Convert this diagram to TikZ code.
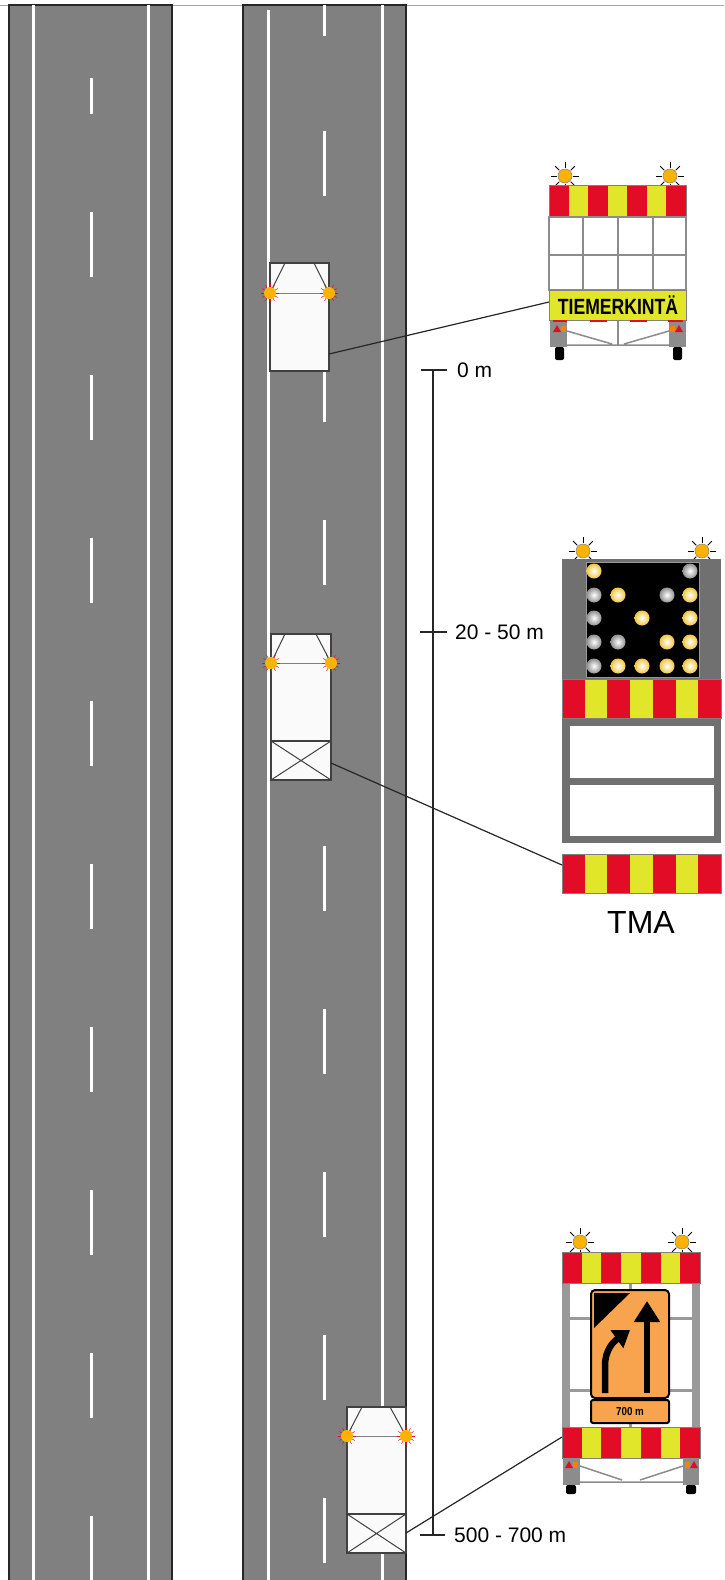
\documentclass[tikz,border=0pt]{standalone}
\usepackage{fontspec}
\setmainfont{Liberation Sans}
\usepackage{tikz}
\usetikzlibrary{arrows.meta}

\definecolor{asphalt}{RGB}{128,128,128}
\definecolor{warnred}{RGB}{227,12,38}
\definecolor{warnyellow}{RGB}{226,230,42}
\definecolor{lampamber}{RGB}{252,178,0}
\definecolor{signorange}{RGB}{248,164,78}
\definecolor{ledyellow}{RGB}{240,198,62}
\definecolor{ledgray}{RGB}{145,145,145}
\definecolor{framegray}{RGB}{112,112,112}

\newcommand{\warnboard}[4]{%
	\fill[warnyellow] (#1,#2) rectangle (#3,#4);
	\foreach \i in {0,2,4,6}
		\fill[warnred] ({#1+\i*(#3-#1)/7},#2) rectangle ({#1+(\i+1)*(#3-#1)/7},#4);
	\draw[black!50,line width=0.6pt] (#1,#2) rectangle (#3,#4);}

\tikzset{
	road/.style={fill=asphalt,draw=black!85,line width=1.2pt},
	lane/.style={white,line width=3pt},
	car/.style={fill=black!2,draw=black!75,line width=1.3pt},
	leader/.style={black!85,line width=1.2pt},
	distlabel/.style={anchor=west,inner sep=0pt,font=\fontsize{21}{24}\selectfont},
	signarrow/.style={line width=6pt,-{Triangle[width=25pt,length=21pt]}},
	chassis/.style={fill=black!45}
}

\begin{document}
\begin{tikzpicture}[x=1pt,y=-1pt]
	\fill[white] (0,0) rectangle (724,1580);
	\useasboundingbox (0,0) rectangle (724,1580);
	\draw[black!35,line width=1pt] (0,5) -- (724,5);

	\draw[road] (9,5) rectangle (172,1590);
	\draw[road] (243,5) rectangle (406,1590);
	\draw[lane] (33,5) -- (33,1580);
	\draw[lane] (148,5) -- (148,1580);
	\draw[lane] (268,10) -- (268,1580);
	\draw[lane] (382,5) -- (382,1580);
	\draw[lane] (91,78) -- (91,114);
	\foreach \y in {212,375,...,1516}
		\draw[lane] (91,\y) -- (91,\y+65);
	\draw[lane] (324,5) -- (324,36);
	\draw[lane] (324,131) -- (324,196);
	\foreach \y in {357,520,...,1498}
		\draw[lane] (324,\y) -- (324,\y+65);

	\draw[car] (270,263) rectangle (329,371);
	\draw[black!75,line width=1pt] (285,263) -- (270,293) (314,263) -- (329,293);
	\draw[black!50,line width=1pt] (270,293) -- (329,293);

	\draw[car] (271,634) rectangle (331,780);
	\draw[car] (271,741) rectangle (331,780);
	\draw[black!75,line width=1pt] (271,741) -- (331,780) (271,780) -- (331,741);
	\draw[black!75,line width=1pt] (285,634) -- (271,663) (316,634) -- (331,663);
	\draw[black!50,line width=1pt] (271,663) -- (331,663);

	\draw[car] (347,1407) rectangle (406,1553);
	\draw[car] (347,1514) rectangle (406,1553);
	\draw[black!75,line width=1pt] (347,1514) -- (406,1553) (347,1553) -- (406,1514);
	\draw[black!75,line width=1pt] (362,1407) -- (347,1436) (390,1407) -- (406,1436);
	\draw[black!50,line width=1pt] (347,1436) -- (406,1436);

	\foreach \x/\y in {270/293,329/293,271/663,331/663,347/1436,406/1436}{
		\foreach \a in {0,30,...,330}
			\draw[warnred,line width=0.5pt] (\x,\y) ++(\a:5) -- ++(\a:4);
		\fill[lampamber] (\x,\y) circle (6);
	}

	\foreach \x/\y in {565/176,670/176,583/551,702/551,580/1242,682/1242}{
		\foreach \a in {0,45,...,315}
			\draw[black,line width=0.8pt] (\x,\y) ++(\a:8) -- ++(\a:6);
		\filldraw[fill=lampamber,draw=black!50,line width=0.5pt] (\x,\y) circle (7);
	}

	\warnboard{549}{185}{686}{217}
	\fill[white] (549,217) rectangle (686,290);
	\draw[black!45,line width=1.5pt] (549,217) rectangle (686,290);
	\draw[black!45,line width=1.5pt] (583,217) -- (583,290) (653,217) -- (653,290) (618,217) -- (618,345) (549,255) -- (686,255);
	\fill[chassis] (550,321) rectangle (567,347);
	\fill[chassis] (669,321) rectangle (686,347);
	\draw[black!45,line width=1.5pt] (567,331) -- (612,344) (669,331) -- (624,344) (567,345) -- (669,345);
	\fill[warnred] (553,332) -- (561,332) -- (557,325) -- cycle;
	\fill[orange] (561,326) rectangle (566,332);
	\fill[orange] (670,326) rectangle (675,332);
	\fill[warnred] (675,332) -- (683,332) -- (679,325) -- cycle;
	\fill[black,rounded corners=2pt] (555,347) rectangle (564,360);
	\fill[black,rounded corners=2pt] (673,347) rectangle (682,360);
	\draw[fill=warnyellow,draw=black!50,line width=0.6pt] (549,290) rectangle (686,320);
	\draw[warnred,line width=1.5pt] (553,321) -- (567,321) (590,321) -- (607,321) (630,321) -- (647,321) (668,321) -- (683,321);
	\node[font=\bfseries\fontsize{22}{22}\selectfont,inner sep=0pt] (markingtext) at (618,305) {\scalebox{0.8}[1]{TIEMERKINTÄ}};

	\fill[framegray] (562,559) rectangle (721,843);
	\draw[fill=black,draw=black!40,line width=1pt] (586,562) rectangle (699,677);
	\foreach \x/\y in {594/571,618/595,690/595,642/618,690/618,667/642,690/642,618/666,642/666,667/666,690/666}
		\shade[inner color=white,outer color=ledyellow] (\x,\y) circle (7.5);
	\foreach \x/\y in {690/571,594/595,667/595,594/618,594/642,618/642,594/666}
		\shade[inner color=white,outer color=ledgray] (\x,\y) circle (7.5);
	\warnboard{562}{679}{721}{718}
	\fill[white] (570,726) rectangle (714,778);
	\fill[white] (570,785) rectangle (714,836);
	\warnboard{562}{854}{721}{893}
	\node[font=\fontsize{32}{36}\selectfont] (tma) at (641,922) {TMA};

	\fill[black!40] (562,1283) rectangle (570,1427);
	\fill[black!40] (692,1283) rectangle (700,1427);
	\draw[black!40,line width=3pt] (570,1318) -- (692,1318) (570,1390) -- (692,1390) (630,1283) -- (630,1427);
	\warnboard{562}{1252}{700}{1283}
	\draw[fill=signorange,line width=2pt,rounded corners=4pt] (591,1290) rectangle (669,1398);
	\fill[black] (594,1293) -- (630,1293) -- (594,1328) -- cycle;
	\draw[signarrow] (647,1393) -- (647,1301);
	\draw[line width=6.5pt,-{Triangle[width=21pt,length=16pt]}] (605,1393) -- (605,1366) .. controls (605,1350) and (613,1342) .. (630,1330);
	\draw[fill=signorange,line width=2pt,rounded corners=2pt] (591,1400) rectangle (669,1423);
	\node[font=\bfseries\fontsize{11.5}{11.5}\selectfont,inner sep=0pt] (plate) at (630,1411.5) {\scalebox{0.85}[1]{700 m}};
	\warnboard{562}{1427}{700}{1458}
	\fill[chassis] (563,1458) rectangle (580,1485);
	\fill[chassis] (683,1458) rectangle (699,1485);
	\draw[black!45,line width=1.5pt] (580,1466) -- (622,1480) (683,1466) -- (640,1480) (580,1482) -- (683,1482);
	\fill[warnred] (565,1468) -- (573,1468) -- (569,1461) -- cycle;
	\fill[orange] (573,1462) rectangle (578,1468);
	\fill[orange] (685,1462) rectangle (690,1468);
	\fill[warnred] (690,1468) -- (698,1468) -- (694,1461) -- cycle;
	\fill[black,rounded corners=2pt] (566,1485) rectangle (576,1494);
	\fill[black,rounded corners=2pt] (686,1485) rectangle (696,1494);

	\coordinate (car1side) at (329,354);
	\coordinate (car2side) at (331,763);
	\coordinate (car3side) at (406,1533);
	\coordinate (markboard) at (549,302);
	\coordinate (tmabar) at (562,865);
	\coordinate (signbar) at (562,1437);
	\draw[leader] (car1side) -- (markboard);
	\draw[leader] (car2side) -- (tmabar);
	\draw[leader] (car3side) -- (signbar);

	\coordinate (zero) at (433,370);
	\coordinate (near) at (433,632);
	\coordinate (far) at (433,1535);
	\draw[leader] (zero) -- (far);
	\draw[leader] ([xshift=-12pt]zero) -- ([xshift=14pt]zero);
	\draw[leader] ([xshift=-13pt]near) -- ([xshift=14pt]near);
	\draw[leader] ([xshift=-13pt]far) -- ([xshift=12pt]far);
	\node[distlabel] (zerolabel) at (457,370) {0 m};
	\node[distlabel] (nearlabel) at (455,632) {20 - 50 m};
	\node[distlabel] (farlabel) at (454,1535) {500 - 700 m};
\end{tikzpicture}
\end{document}
